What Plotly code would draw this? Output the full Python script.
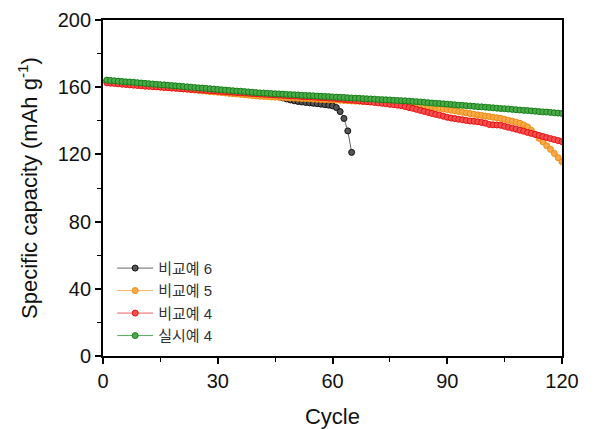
import plotly.graph_objects as go

# cycle number for each point
cycles_120 = list(range(1, 121))
cycles_65 = list(range(1, 66))

# 비교예 6 (stops at cycle 65)
comp6 = [
    163.9, 163.7, 163.5, 163.3, 163.1, 162.9, 162.7, 162.5, 162.3, 162.1,
    161.9, 161.7, 161.5, 161.3, 161.1, 160.9, 160.7, 160.5, 160.3, 160.1,
    159.9, 159.7, 159.5, 159.3, 159.1, 158.9, 158.7, 158.5, 158.3, 158.1,
    157.9, 157.7, 157.5, 157.3, 157.1, 156.9, 156.7, 156.5, 156.3, 156.1,
    155.9, 155.7, 155.4, 155.1, 154.7, 154.2, 153.6, 153.0, 152.4, 151.9,
    151.5, 151.2, 150.9, 150.7, 150.4, 150.2, 149.9, 149.6, 149.3, 148.9,
    147.9, 145.5, 141.4, 134.0, 121.2,
]

# 비교예 5
comp5 = [
    163.4, 163.2, 163.0, 162.7, 162.5, 162.3, 162.1, 161.9, 161.6, 161.4,
    161.2, 161.0, 160.7, 160.5, 160.3, 160.1, 159.9, 159.6, 159.4, 159.2,
    159.0, 158.8, 158.5, 158.3, 158.1, 157.9, 157.7, 157.4, 157.2, 157.0,
    156.8, 156.6, 156.3, 156.1, 155.9, 155.7, 155.5, 155.3, 155.0, 154.8,
    154.6, 154.5, 154.4, 154.2, 154.1, 154.0, 153.9, 153.7, 153.6, 153.5,
    153.4, 153.3, 153.2, 153.1, 152.9, 152.8, 152.7, 152.6, 152.5, 152.4,
    152.3, 152.2, 152.1, 152.0, 151.8, 151.7, 151.6, 151.5, 151.4, 151.3,
    151.2, 151.0, 150.9, 150.8, 150.7, 150.5, 150.4, 150.3, 150.1, 149.8,
    149.6, 149.3, 149.1, 148.8, 148.4, 148.1, 147.7, 147.4, 147.0, 146.7,
    146.3, 145.9, 145.5, 145.1, 144.7, 144.3, 143.9, 143.5, 143.2, 142.8,
    142.5, 142.1, 141.8, 141.4, 140.9, 140.3, 139.8, 139.2, 138.5, 137.5,
    136.3, 134.3, 132.0, 129.6, 127.5, 125.2, 123.0, 120.6, 118.0, 115.6,
]

# 비교예 4
comp4 = [
    162.6, 162.4, 162.2, 162.0, 161.8, 161.6, 161.4, 161.2, 161.0, 160.8,
    160.6, 160.5, 160.3, 160.2, 160.0, 159.8, 159.7, 159.5, 159.4, 159.2,
    159.0, 158.9, 158.7, 158.6, 158.4, 158.2, 158.1, 157.9, 157.8, 157.6,
    157.4, 157.3, 157.1, 157.0, 156.8, 156.7, 156.5, 156.4, 156.2, 156.1,
    155.9, 155.8, 155.6, 155.5, 155.4, 155.2, 155.1, 155.0, 154.8, 154.7,
    154.6, 154.4, 154.3, 154.2, 154.1, 153.9, 153.8, 153.7, 153.5, 153.4,
    153.2, 153.0, 152.7, 152.5, 152.3, 152.1, 151.9, 151.6, 151.4, 151.2,
    150.9, 150.7, 150.4, 150.1, 149.8, 149.6, 149.3, 149.0, 148.5, 147.9,
    147.4, 146.8, 146.2, 145.6, 145.0, 144.4, 143.8, 143.3, 142.7, 142.1,
    141.6, 141.3, 140.9, 140.6, 140.2, 139.9, 139.7, 139.4, 139.0, 138.6,
    137.8, 137.6, 137.5, 137.3, 136.7, 136.1, 135.6, 135.0, 134.4, 133.8,
    133.1, 132.5, 131.9, 131.3, 130.6, 130.0, 129.4, 128.8, 128.2, 127.6,
]

# 실시예 4
ex4 = [
    164.2, 164.0, 163.8, 163.6, 163.4, 163.2, 163.1, 162.9, 162.7, 162.5,
    162.3, 162.1, 161.9, 161.7, 161.5, 161.4, 161.2, 161.0, 160.8, 160.6,
    160.4, 160.2, 160.0, 159.8, 159.6, 159.5, 159.3, 159.1, 158.9, 158.7,
    158.5, 158.3, 158.1, 157.9, 157.7, 157.6, 157.4, 157.2, 157.0, 156.8,
    156.6, 156.5, 156.4, 156.2, 156.1, 156.0, 155.9, 155.7, 155.6, 155.5,
    155.4, 155.2, 155.1, 155.0, 154.9, 154.7, 154.6, 154.5, 154.4, 154.2,
    154.1, 154.0, 153.9, 153.7, 153.6, 153.5, 153.4, 153.2, 153.1, 153.0,
    152.9, 152.7, 152.6, 152.5, 152.4, 152.2, 152.1, 152.0, 151.9, 151.7,
    151.5, 151.4, 151.2, 151.0, 150.8, 150.6, 150.4, 150.3, 150.1, 149.9,
    149.7, 149.5, 149.3, 149.2, 149.0, 148.8, 148.6, 148.4, 148.3, 148.1,
    147.9, 147.7, 147.5, 147.3, 147.2, 147.0, 146.8, 146.6, 146.4, 146.2,
    146.1, 145.9, 145.7, 145.5, 145.3, 145.2, 145.0, 144.8, 144.6, 144.4,
]

# name, x, y, marker fill, marker edge, connecting line
series = [
    ("비교예 6", cycles_65, comp6, "#555555", "#111111", "#666666"),
    ("비교예 5", cycles_120, comp5, "#FBAA4A", "#F08A10", "#F7B060"),
    ("비교예 4", cycles_120, comp4, "#F55050", "#E81010", "#EE6060"),
    ("실시예 4", cycles_120, ex4, "#4AAA4A", "#168016", "#55AA55"),
]

FONT = "Liberation Sans, Arial, Noto Sans CJK KR"

fig = go.Figure()
for name, x, y, fill, edge, lcol in series:
    fig.add_trace(go.Scatter(
        x=x, y=y, name=name, mode="lines+markers",
        line=dict(color=lcol, width=1),
        marker=dict(color=fill, size=6, line=dict(color=edge, width=1)),
    ))

axis_common = dict(
    showline=True, linecolor="black", linewidth=1.8, mirror=True,
    ticks="outside", ticklen=6, tickwidth=1.5, tickcolor="black",
    showgrid=False, zeroline=False, automargin=False,
    tickfont=dict(family=FONT, size=20, color="#111111"),
)

fig.update_xaxes(
    range=[0, 120], tickvals=[0, 30, 60, 90, 120],
    minor=dict(ticks="outside", ticklen=4, tickwidth=1.2, tickcolor="black", dtick=15, tick0=0),
    title=dict(text="Cycle", font=dict(family=FONT, size=22, color="#111111"), standoff=18),
    **axis_common,
)
fig.update_yaxes(
    range=[0, 200], tickvals=[0, 40, 80, 120, 160, 200],
    minor=dict(ticks="outside", ticklen=4, tickwidth=1.2, tickcolor="black", dtick=20, tick0=0),
    title=dict(text="Specific capacity (mAh g<sup>-1</sup>)",
               font=dict(family=FONT, size=22, color="#111111"), standoff=14),
    **axis_common,
)

# page body adds an 8px offset, so the figure is a bit smaller than the window
fig.update_layout(
    width=589, height=421,
    margin=dict(l=95, r=35, t=12, b=73),
    paper_bgcolor="white", plot_bgcolor="white",
    showlegend=True,
    legend=dict(
        x=0.02, y=0.31, xanchor="left", yanchor="top",
        font=dict(family=FONT, size=15, color="#333333"),
        bgcolor="rgba(0,0,0,0)", tracegroupgap=0, itemwidth=36,
    ),
)

fig.write_html("out.html")
